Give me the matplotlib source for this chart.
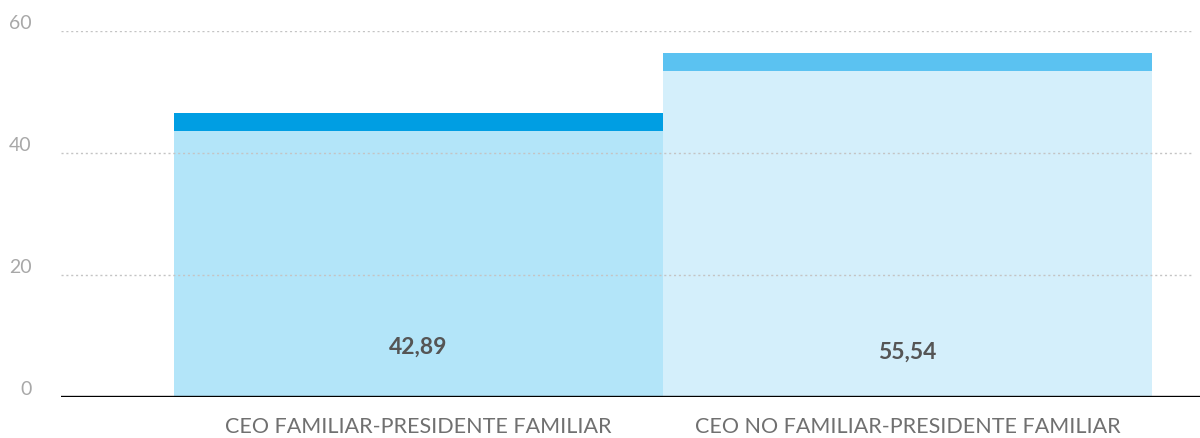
import matplotlib.pyplot as plt

# data
categories = ["CEO FAMILIAR-PRESIDENTE FAMILIAR", "CEO NO FAMILIAR-PRESIDENTE FAMILIAR"]
values = [42.89, 55.54]
value_labels = ["42,89", "55,54"]
bar_bodies = [43.6, 53.4]   # light part of each bar as drawn
bar_caps = [3.0, 3.0]       # darker band on top
label_y = [8.3, 7.5]
yticks = [0, 20, 40, 60]

body_colors = ["#B3E5F9", "#D4EFFB"]
cap_colors = ["#009EE3", "#5BC2F1"]

plt.rcParams["font.family"] = ["Lato", "DejaVu Sans"]

fig = plt.figure(figsize=(12, 4.39), dpi=100)
ax = fig.add_axes([61 / 1200, 41.3 / 439, 1139 / 1200, 365.7 / 439])

x = range(len(categories))
ax.bar(x, bar_bodies, width=1.0, color=body_colors, zorder=2)
ax.bar(x, bar_caps, width=1.0, bottom=bar_bodies, color=cap_colors, zorder=2)

for xi, txt, ly in zip(x, value_labels, label_y):
    ax.text(xi, ly, txt, ha="center", va="center", fontsize=16.5,
            fontweight="bold", color="#555555", zorder=3)

# dotted gridlines
for t in yticks[1:]:
    ax.axhline(t, xmin=0, xmax=0.994, color="#c4c4c4", lw=1,
               ls=(0, (1.5, 2)), zorder=3)
ax.axhline(0, color="black", lw=1.7, zorder=4)

ax.set_xlim(-0.730, 1.598)
ax.set_ylim(0, 60)
ax.set_yticks(yticks)
ax.set_yticklabels([str(t) for t in yticks], fontsize=14, fontweight="normal",
                   color="#a8a8a8")
for lbl in ax.get_yticklabels():
    lbl.set_verticalalignment("bottom")
ax.tick_params(axis="y", length=0, pad=21)
ax.set_xticks(list(x))
ax.set_xticklabels(categories, fontsize=15.5, fontweight="normal", color="#707070")
ax.tick_params(axis="x", length=0, pad=14)

for s in ax.spines.values():
    s.set_visible(False)

plt.savefig("out.png", dpi=100)
plt.close()
